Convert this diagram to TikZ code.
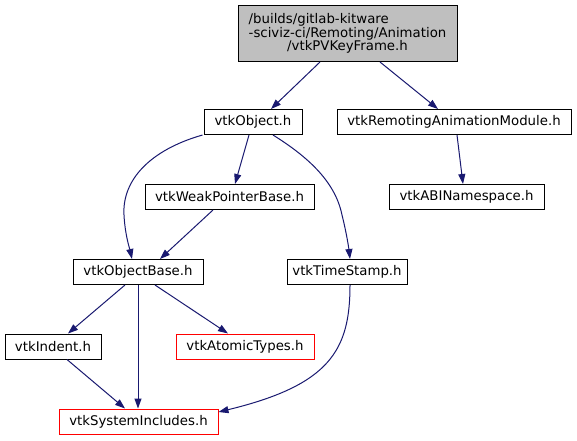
\documentclass[tikz,border=0pt]{standalone}
\usepackage{fontspec}
\setmainfont{DejaVu Sans}
\usetikzlibrary{arrows.meta}
\definecolor{edgeblue}{HTML}{191970}
\definecolor{rootgray}{HTML}{BFBFBF}
\definecolor{missred}{HTML}{FF0000}
\newlength\rootlinew
\begin{document}
\begin{tikzpicture}[x=1pt,y=-1pt,
  filebox/.style={draw=black,line width=1pt,inner sep=0pt,minimum height=25pt,font=\fontsize{13.3}{13.3}\selectfont},
  missbox/.style={filebox,draw=missred},
  dep/.style={draw=edgeblue,line width=1pt,-{Triangle[length=10pt,width=7pt]}}]
\useasboundingbox (0,0) rectangle (577,440);
\fill[white] (0,0) rectangle (577,440);

\node[filebox,fill=rootgray,minimum width=219pt,minimum height=56pt,align=center] (root) at (347.5,33.5)
  {\settowidth{\rootlinew}{-sciviz-ci/Remoting/Animation}\makebox[\rootlinew][l]{/builds/gitlab-kitware}\\-sciviz-ci/Remoting/Animation\\/vtkPVKeyFrame.h};
\node[filebox,minimum width=98pt] (obj) at (253,122) {vtkObject.h};
\node[filebox,minimum width=234pt] (remote) at (454,122) {vtkRemotingAnimationModule.h};
\node[filebox,minimum width=169pt] (weak) at (229.5,197) {vtkWeakPointerBase.h};
\node[filebox,minimum width=155pt] (abi) at (466.5,197) {vtkABINamespace.h};
\node[filebox,minimum width=130pt] (objbase) at (138,272) {vtkObjectBase.h};
\node[filebox,minimum width=120pt] (stamp) at (347,272) {vtkTimeStamp.h};
\node[filebox,minimum width=96pt] (indent) at (53,346.5) {vtkIndent.h};
\node[missbox,minimum width=138pt] (atomic) at (245,346.5) {vtkAtomicTypes.h};
\node[missbox,minimum width=159pt] (sysinc) at (138.5,421.5) {vtkSystemIncludes.h};

\draw[dep] ([xshift=-27.5pt]root.south) -- ([xshift=18pt]obj.north);
\draw[dep] ([xshift=32.5pt]root.south) -- ([xshift=-16pt]remote.north);
\draw[dep] ([xshift=-4pt]obj.south) -- ([xshift=5.5pt]weak.north);
\draw[dep] ([xshift=-1pt]obj.south west) .. controls (150,150) and (122,180) .. (124,215)
  .. controls (125,235) and (130,250) .. ([xshift=-6pt]objbase.north);
\draw[dep] ([xshift=20pt]obj.south) .. controls (305,155) and (335,180) .. (342,215)
  .. controls (347,235) and (349,250) .. ([xshift=3pt]stamp.north);
\draw[dep] ([xshift=3pt]remote.south) -- ([xshift=-3.5pt]abi.north);
\draw[dep] ([xshift=-16.5pt]weak.south) -- ([xshift=22pt]objbase.north);
\draw[dep] ([xshift=-13pt]objbase.south) -- ([xshift=15pt]indent.north);
\draw[dep] (objbase.south) -- ([xshift=-0.5pt]sysinc.north);
\draw[dep] ([xshift=17pt]objbase.south) -- ([xshift=-17pt]atomic.north);
\draw[dep] ([xshift=14pt]indent.south) -- ([xshift=-13.5pt]sysinc.north);
\draw[dep] ([xshift=3pt]stamp.south) .. controls (350,350) and (330,385) .. ([yshift=9.5pt]sysinc.east);
\end{tikzpicture}
\end{document}
